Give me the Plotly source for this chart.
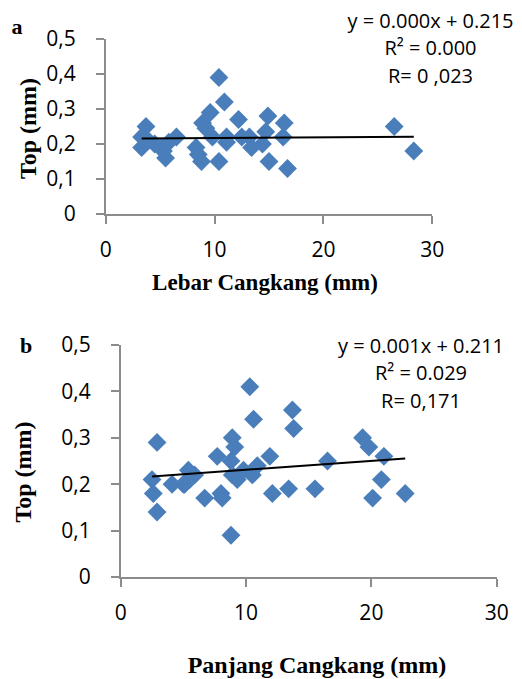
import plotly.graph_objects as go

# ---- data ----
lebar_x = [3.3, 3.3, 3.7, 3.9, 4.5, 5.1, 5.3, 5.5, 5.8, 6.5, 8.3, 8.5, 8.8, 8.9, 9.2,
           9.6, 9.8, 10.4, 10.4, 10.9, 11.1, 11.1, 12.2, 12.5, 13.2, 13.4, 14.4, 14.7,
           14.9, 15.0, 16.3, 16.4, 16.7, 26.5, 28.3]
lebar_y = [0.22, 0.19, 0.25, 0.21, 0.20, 0.19, 0.18, 0.16, 0.205, 0.22, 0.19, 0.17, 0.15,
           0.26, 0.245, 0.29, 0.22, 0.39, 0.15, 0.32, 0.22, 0.205, 0.27, 0.22, 0.22, 0.19,
           0.20, 0.235, 0.28, 0.15, 0.22, 0.26, 0.13, 0.25, 0.18]

panjang_x = [2.5, 2.6, 2.9, 2.9, 4.1, 5.0, 5.1, 5.4, 5.5, 5.9, 6.7, 7.7, 8.0, 8.1, 8.8,
             8.8, 8.9, 9.1, 8.9, 9.3, 9.8, 10.3, 10.5, 10.6, 10.9, 11.9, 12.1, 13.4, 13.7,
             13.8, 15.5, 16.5, 19.3, 19.8, 20.1, 20.8, 21.0, 22.7]
panjang_y = [0.21, 0.18, 0.29, 0.14, 0.20, 0.20, 0.20, 0.23, 0.21, 0.22, 0.17, 0.26, 0.18,
             0.17, 0.25, 0.09, 0.30, 0.28, 0.22, 0.21, 0.23, 0.41, 0.22, 0.34, 0.24, 0.26,
             0.18, 0.19, 0.36, 0.32, 0.19, 0.25, 0.30, 0.28, 0.17, 0.21, 0.26, 0.18]

# trend line coefficients (slope, intercept) as drawn
trend_a = (0.0002, 0.2153)
trend_b = (0.0019, 0.2120)

y_tickvals = [0, 0.1, 0.2, 0.3, 0.4, 0.5]
y_ticktext = ["0", "0,1", "0,2", "0,3", "0,4", "0,5"]
x_tickvals = [0, 10, 20, 30]

eq_a = ["y = 0.000x + 0.215", "R² = 0.000", "R= 0 ,023"]
eq_b = ["y = 0.001x + 0.211", "R² = 0.029", "R= 0,171"]

W, H = 522, 679
MARK = "#4A7EBB"
AXC = "#8C8C8C"
TICKFONT = dict(family="Open Sans", size=21, color="#000000")
SERIF = "Liberation Serif"


def line_pts(xs, coef):
    x0, x1 = min(xs), max(xs)
    return [x0, x1], [coef[0] * x0 + coef[1], coef[0] * x1 + coef[1]]


fig = go.Figure()
fig.add_trace(go.Scatter(x=lebar_x, y=lebar_y, mode="markers", xaxis="x", yaxis="y",
                         marker=dict(symbol="diamond", size=14.5, color=MARK,
                                     line=dict(width=0)), showlegend=False))
lx, ly = line_pts(lebar_x, trend_a)
fig.add_trace(go.Scatter(x=lx, y=ly, mode="lines", xaxis="x", yaxis="y",
                         line=dict(color="black", width=2), showlegend=False))
fig.add_trace(go.Scatter(x=panjang_x, y=panjang_y, mode="markers", xaxis="x2", yaxis="y2",
                         marker=dict(symbol="diamond", size=14.5, color=MARK,
                                     line=dict(width=0)), showlegend=False))
lx, ly = line_pts(panjang_x, trend_b)
fig.add_trace(go.Scatter(x=lx, y=ly, mode="lines", xaxis="x2", yaxis="y2",
                         line=dict(color="black", width=2), showlegend=False))


def px(x):
    return x / W


def py(y):
    return 1 - y / H


xcommon = dict(range=[0, 30], tickvals=x_tickvals, showline=True, linecolor=AXC, linewidth=1.5,
               ticks="outside", ticklen=8, tickcolor=AXC, tickwidth=1.5, showgrid=False,
               zeroline=False, tickfont=TICKFONT, ticklabelstandoff=8, automargin=False)
ycommon = dict(range=[0, 0.5], tickvals=y_tickvals, ticktext=y_ticktext, showline=True,
               linecolor=AXC, linewidth=1.5, ticks="outside", ticklen=8, tickcolor=AXC,
               tickwidth=1.5, showgrid=False, zeroline=False, tickfont=TICKFONT,
               ticklabelstandoff=16, automargin=False)

fig.update_layout(
    width=W, height=H, autosize=False,
    margin=dict(l=0, r=0, t=0, b=0, pad=0),
    paper_bgcolor="white", plot_bgcolor="white",
    xaxis=dict(domain=[px(105.7), px(432.3)], anchor="y", **xcommon),
    yaxis=dict(domain=[py(214), py(39)], anchor="x", **ycommon),
    xaxis2=dict(domain=[px(120.7), px(496.7)], anchor="y2", **xcommon),
    yaxis2=dict(domain=[py(577), py(345)], anchor="x2", **ycommon),
)

shapes = []


def add_text(text, x, y, font, angle=0):
    # invisible paper-referenced box whose label carries the text (does not push margins)
    shapes.append(dict(type="rect", xref="paper", yref="paper",
                       x0=px(x - 1), x1=px(x + 1), y0=py(y + 1), y1=py(y - 1),
                       line=dict(width=0), fillcolor="rgba(0,0,0,0)",
                       label=dict(text=text, font=font, textangle=angle,
                                  textposition="middle center", padding=0)))


eqfont = dict(family="Open Sans", size=20, color="#000000")
for i, t in enumerate(eq_a):
    add_text(t, 430.5, 21.5 + 27.3 * i, eqfont)
for i, t in enumerate(eq_b):
    add_text(t, 421, 346 + 27.5 * i, eqfont)

add_text("a", 17, 24, dict(family=SERIF, size=22, color="#000000", weight="bold"))
add_text("b", 26, 343, dict(family=SERIF, size=22, color="#000000", weight="bold"))
add_text("Top (mm)", 25, 128.5, dict(family=SERIF, size=24, color="#000000", weight="bold"), -90)
add_text("Top (mm)", 19.5, 472, dict(family=SERIF, size=24, color="#000000", weight="bold"), -90)
add_text("Lebar Cangkang (mm)", 265, 279,
         dict(family=SERIF, size=23, color="#000000", weight="bold"))
add_text("Panjang Cangkang (mm)", 317, 662,
         dict(family=SERIF, size=24, color="#000000", weight="bold"))

fig.update_layout(shapes=shapes)
fig.write_html("out.html")
